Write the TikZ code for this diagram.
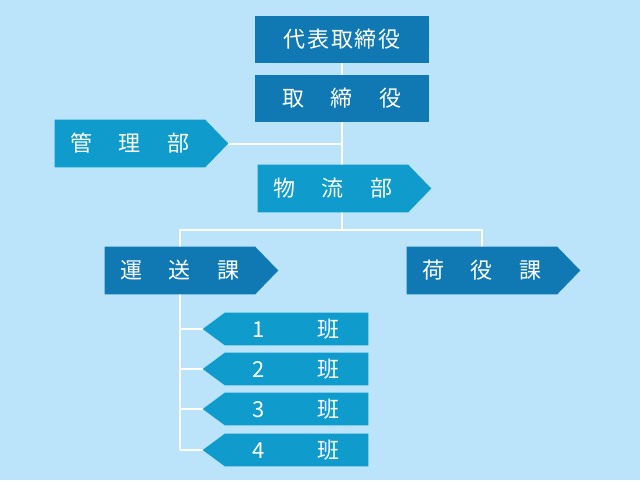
\documentclass[tikz,border=0pt]{standalone}
\usepackage{fontspec}
\usepackage{tikz}
\usetikzlibrary{positioning,calc,backgrounds}
\newfontfamily\jpfont{Noto Sans CJK JP}
\definecolor{skyback}{HTML}{BBE4FB}
\definecolor{darkbox}{HTML}{1079B4}
\definecolor{lightbox}{HTML}{0F9CCC}
\newcommand{\jsp}{\hspace{1.2em}}
\newcommand{\ksp}{\hspace{0.08em}}

\begin{document}
\begin{tikzpicture}[x=0.75pt,y=-0.75pt,
  box/.style={text=white,inner sep=0pt,minimum height=35.25pt,
    minimum width=112.5pt,font=\jpfont\fontsize{16.5}{18}\selectfont},
  wide/.style={minimum width=130.5pt},
  team/.style={box,minimum height=24pt,minimum width=107.25pt},
  link/.style={draw=white,line width=1.5pt}]
  \useasboundingbox (0,0) rectangle (640,480);

  % Board
  \node[box,wide] (ceo) at (342,39.5) {代\ksp 表\ksp 取\ksp 締\ksp 役};
  \node[box,wide] (dir) at (342,98.5) {取\jsp 締\jsp 役};

  % Departments
  \node[box] (kanri) at (130,143.5) {管\jsp 理\jsp 部};
  \node[box] (butsu) at (333,188.5) {物\jsp 流\jsp 部};

  % Sections
  \node[box] (unso) at (180,270.5) {運\jsp 送\jsp 課};
  \node[box] (niyaku) at (482,270.5) {荷\jsp 役\jsp 課};

  % Teams under 運送課
  \foreach \i/\y in {1/329,2/369,3/409,4/450} {
    \node[team] (han\i) at (296.5,\y) {\i\hspace{2.4em}班};
    \coordinate (han\i tip) at ($(han\i.west)+(-22,0)$);
  }
  \coordinate (kanritip) at ($(kanri.east)+(23,0)$);
  \coordinate (split) at (342,230);

  \begin{pgfonlayer}{background}
    \fill[skyback] (0,0) rectangle (640,480);
    % Connectors
    \draw[link] (ceo) -- (dir);
    \draw[link] (dir.south) -- (split);
    \draw[link] (kanritip) -- (kanritip -| dir.south);
    \draw[link] (unso.north) |- (split) -| (niyaku.north);
    \draw[link] (unso.south) -- (unso.south |- han4tip);
    \foreach \i in {1,...,4}
      \draw[link] (han\i tip -| unso.south) -- (han\i tip);
    % Box shapes
    \fill[darkbox] (ceo.north west) rectangle (ceo.south east);
    \fill[darkbox] (dir.north west) rectangle (dir.south east);
    \foreach \n/\c in {kanri/lightbox,butsu/lightbox,unso/darkbox,niyaku/darkbox}
      \fill[\c] (\n.north west) -- (\n.north east) -- ($(\n.east)+(23,0)$)
        -- (\n.south east) -- (\n.south west) -- cycle;
    \foreach \i in {1,...,4}
      \fill[lightbox] (han\i.north east) -- (han\i.north west) -- (han\i tip)
        -- (han\i.south west) -- (han\i.south east) -- cycle;
  \end{pgfonlayer}
\end{tikzpicture}
\end{document}
